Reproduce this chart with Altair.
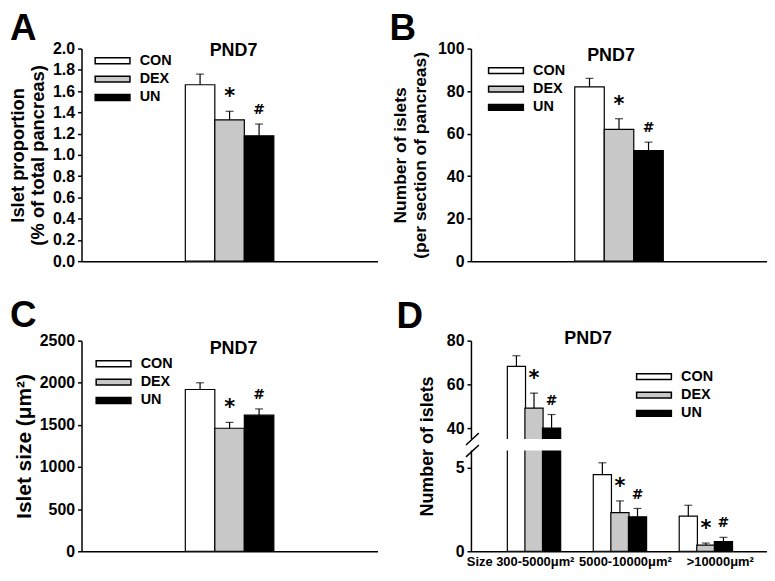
import json
import altair as alt
import pandas as pd

FONT = "Liberation Sans"
MARK_FONT = "DejaVu Sans"
conditions = ["CON", "DEX", "UN"]
fill_colors = ["#ffffff", "#c8c8c8", "#000000"]

# Panel A: islet proportion (% of total pancreas)
a_mean = [1.66, 1.33, 1.18]
a_err = [0.10, 0.08, 0.11]
a_ticks = [0.0, 0.2, 0.4, 0.6, 0.8, 1.0, 1.2, 1.4, 1.6, 1.8, 2.0]

# Panel B: number of islets per section
b_mean = [82, 62, 52]
b_err = [4, 5, 4]
b_ticks = [0, 20, 40, 60, 80, 100]

# Panel C: islet size (um^2)
c_mean = [1920, 1460, 1615]
c_err = [80, 70, 75]
c_ticks = [0, 500, 1000, 1500, 2000, 2500]

# Panel D: number of islets by size class
d_groups = ["Size 300-5000μm²", "5000-10000μm²", ">10000μm²"]
d_con_mean = [68.2, 4.57, 2.09]
d_con_err = [4.9, 0.70, 0.65]
d_dex_mean = [49.1, 2.30, 0.37]
d_dex_err = [6.9, 0.70, 0.12]
d_un_mean = [40.0, 2.05, 0.57]
d_un_err = [6.2, 0.50, 0.26]
d_ticks = [0, 5, 40, 60, 80]

W = 298
H1 = 214
H2 = 212
SYMBOL = "M-3,-0.5H3V0.5H-3Z"


def fill_enc(lx, ly):
    return alt.Fill(
        "cond:N", sort=conditions,
        scale=alt.Scale(domain=conditions, range=fill_colors),
        legend=alt.Legend(title=None, orient="none", legendX=lx, legendY=ly),
    )


def text_layer(txt, x, y, size, baseline="middle", align="center"):
    return alt.Chart(pd.DataFrame({"t": [txt]})).mark_text(
        font=FONT, fontWeight="bold", fontSize=size, color="black",
        baseline=baseline, align=align,
    ).encode(text="t:N", x=alt.value(x), y=alt.value(y))


def markers(base, enc):
    star = base.transform_filter("datum.cond == 'DEX'").mark_text(
        text="*", font=MARK_FONT, fontWeight="bold", fontSize=21, dy=-8, color="black",
        baseline="alphabetic").encode(**enc)
    hsh = base.transform_filter("datum.cond == 'UN'").mark_text(
        text="#", font=MARK_FONT, fontWeight="bold", fontSize=14, dy=-10, color="black",
        baseline="alphabetic").encode(**enc)
    return [star, hsh]


def simple_panel(mean, err, ydom, yvals, yfmt, ytitle, tpad, tsize, tline, height,
                 letter, letter_xy, title_xy, leg_xy):
    df = pd.DataFrame({"grp": ["PND7"] * 3, "cond": conditions, "mean": mean,
                       "top": [m + e for m, e in zip(mean, err)]})
    x = alt.X("grp:N", scale=alt.Scale(paddingInner=0.148, paddingOuter=1),
              axis=alt.Axis(title=None, labels=False, ticks=False))
    xo = alt.XOffset("cond:N", sort=conditions,
                     scale=alt.Scale(range=[0, 89.1], paddingInner=0, paddingOuter=0))
    yaxis = alt.Axis(title=ytitle, values=yvals, format=yfmt, titlePadding=tpad,
                     titleFontSize=tsize, titleLineHeight=tline)
    yscale = alt.Scale(domain=ydom, nice=False, zero=True)

    def Y(f):
        return alt.Y(f"{f}:Q", scale=yscale, axis=yaxis)

    base = alt.Chart(df)
    bars = base.mark_bar(stroke="black", strokeWidth=1.2).encode(
        x=x, xOffset=xo, y=Y("mean"), fill=fill_enc(*leg_xy))
    rule = base.mark_rule(color="black", strokeWidth=1.2).encode(
        x=x, xOffset=xo, y=Y("mean"), y2="top:Q")
    cap = base.mark_tick(color="black", thickness=1.2, size=8,
                         orient="horizontal").encode(x=x, xOffset=xo, y=Y("top"))
    layers = [bars, rule, cap] + markers(base, {"x": x, "xOffset": xo, "y": Y("top")}) + [
        text_layer("PND7", title_xy[0], title_xy[1], 18),
        text_layer(letter, letter_xy[0], letter_xy[1], 37, baseline="top", align="left"),
    ]
    return alt.layer(*layers).properties(width=W, height=height)


A = simple_panel(a_mean, a_err, [0, 2.0], a_ticks, ".1f",
                 ["Islet proportion", "(% of total pancreas)"], 5, 18.5, 20, H1,
                 "A", (-72, -38), (153, 2), (24, 5))
B = simple_panel(b_mean, b_err, [0, 100], b_ticks, "d",
                 ["Number of islets", "(per section of pancreas)"], 8, 17.5, 20, H1,
                 "B", (-82, -38), (141, 7), (28, 15))
C = simple_panel(c_mean, c_err, [0, 2500], c_ticks, "d",
                 "Islet size (μm²)", 5, 21, 21, H2,
                 "C", (-72, -43), (153, 8), (25, 16))

# Panel D with broken y axis; bars placed on a numeric group axis
rows = []
for gi, g in enumerate(d_groups):
    for ci, (c, m, e) in enumerate((("CON", d_con_mean, d_con_err),
                                    ("DEX", d_dex_mean, d_dex_err),
                                    ("UN", d_un_mean, d_un_err))):
        rows.append({"gi": gi, "ci": ci, "grp": g, "cond": c,
                     "mean": m[gi], "top": m[gi] + e[gi]})
ddf = pd.DataFrame(rows)

STEP = 89.5          # pixels per group
BARW = 18.3          # bar width in pixels
BW = BARW / STEP     # bar width in group units
d0 = -60.5 / STEP
xdomD = [d0, d0 + W / STEP]
label_expr = json.dumps(d_groups) + "[datum.value]"

xD = alt.X("xc:Q", scale=alt.Scale(domain=xdomD, nice=False, zero=False),
           axis=alt.Axis(title=None, ticks=False, grid=False, values=[0, 1, 2],
                         labelExpr=label_expr, labelFlush=False, labelOverlap=False,
                         labelAngle=0, labelPadding=4, labelFontSize=13,
                         labelOffset=alt.ExprRef(
                             "datum.value == 0 ? -14 : (datum.value == 2 ? 14 : 5)")))
yscaleD = alt.Scale(domain=[0, 6, 35, 80], range=[H2, 110.6, 99, 0], nice=False, zero=False)
yaxisD = alt.Axis(title="Number of islets", values=d_ticks, format="d",
                  titlePadding=10, titleFontSize=18)


def YD(f):
    return alt.Y(f"{f}:Q", scale=yscaleD, axis=yaxisD)


baseD = alt.Chart(ddf).transform_calculate(xc=f"datum.gi + (datum.ci - 1) * {BW}")
one = pd.DataFrame({"k": [0]})
barsD = baseD.mark_bar(size=BARW, stroke="black", strokeWidth=1.2).encode(
    x=xD, y=YD("mean"), fill=fill_enc(177, 29))
gapD = alt.Chart(one).mark_rect(color="white").encode(
    x=alt.value(-4), x2=alt.value(W), y=alt.datum(6), y2=alt.datum(35))
ruleD = baseD.mark_rule(color="black", strokeWidth=1.2).encode(
    x=xD, y=YD("mean"), y2="top:Q")
capD = baseD.mark_tick(color="black", thickness=1.2, size=8,
                       orient="horizontal").encode(x=xD, y=YD("top"))
slash1 = alt.Chart(one).mark_rule(color="black", strokeWidth=1.5).encode(
    x=alt.value(-5), x2=alt.value(8), y=alt.value(105), y2=alt.value(93))
slash2 = alt.Chart(one).mark_rule(color="black", strokeWidth=1.5).encode(
    x=alt.value(-5), x2=alt.value(8), y=alt.value(117), y2=alt.value(105))

D = alt.layer(
    barsD, gapD, ruleD, capD, *markers(baseD, {"x": xD, "y": YD("top")}),
    slash1, slash2,
    text_layer("PND7", 118, -2, 18),
    text_layer("D", -75, -42, 37, baseline="top", align="left"),
).properties(width=W, height=H2)

chart = alt.concat(
    A, B, C, D, columns=2, spacing={"row": 80, "column": 94}, bounds="flush"
).resolve_scale(fill="independent").properties(
    padding={"left": 0, "top": 0, "right": 0, "bottom": 0}
).configure_view(stroke=None).configure_axis(
    domainColor="black", domainWidth=1.5, tickColor="black", tickWidth=1.5,
    tickSize=4, labelFont=FONT, labelFontSize=16, labelFontWeight="bold",
    labelColor="black", labelPadding=3, titleFont=FONT, titleFontWeight="bold",
    titleColor="black", grid=False,
).configure_legend(
    labelFont=FONT, labelFontSize=14.5, labelFontWeight="bold", labelColor="black",
    symbolType=SYMBOL, symbolSize=136, symbolStrokeColor="black",
    symbolStrokeWidth=1.5, labelOffset=20, padding=0, rowPadding=3.5,
)

chart.save("out.html", embed_options={"renderer": "svg", "actions": False})
